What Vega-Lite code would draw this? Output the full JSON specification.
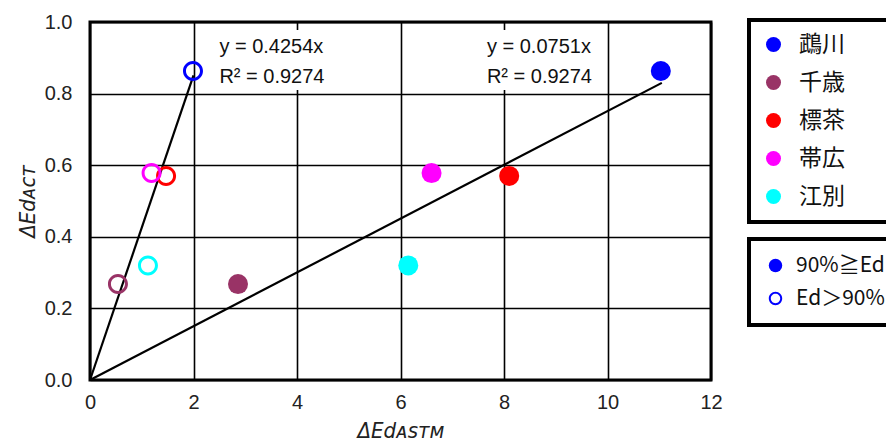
{
  "$schema": "https://vega.github.io/schema/vega-lite/v6.json",
  "width": 621,
  "height": 358,
  "autosize": {"type": "none"},
  "padding": {"left": 90, "top": 22, "right": 175, "bottom": 65},
  "background": "white",
  "config": {
    "view": {"stroke": "black", "strokeWidth": 3},
    "axis": {
      "grid": true, "gridColor": "black", "gridWidth": 1.6, "gridOpacity": 1,
      "domain": false, "ticks": false, "labelFlush": false,
      "labelFont": "Liberation Sans", "labelFontSize": 20, "labelColor": "#222",
      "titleFont": "Liberation Sans Narrow, DejaVu Sans Condensed, Liberation Sans", "titleFontSize": 22,
      "titleFontStyle": "italic", "titleFontWeight": "normal", "titleColor": "#222"
    },
    "legend": {
      "orient": "none",
      "strokeColor": "black", "strokeWidth": 4, "fillColor": "white",
      "labelFont": "Noto Sans CJK JP", "labelColor": "#111",
      "symbolStrokeWidth": 0
    }
  },
  "datasets": {
    "pts": [
      {"station": "鵡川", "type": "90%≧Ed", "x": 11.03, "y": 0.863},
      {"station": "鵡川", "type": "Ed＞90%", "x": 1.99, "y": 0.863},
      {"station": "千歳", "type": "90%≧Ed", "x": 2.86, "y": 0.268},
      {"station": "千歳", "type": "Ed＞90%", "x": 0.54, "y": 0.268},
      {"station": "標茶", "type": "90%≧Ed", "x": 8.1, "y": 0.57},
      {"station": "標茶", "type": "Ed＞90%", "x": 1.47, "y": 0.57},
      {"station": "帯広", "type": "90%≧Ed", "x": 6.6, "y": 0.578},
      {"station": "帯広", "type": "Ed＞90%", "x": 1.19, "y": 0.578},
      {"station": "江別", "type": "90%≧Ed", "x": 6.15, "y": 0.32},
      {"station": "江別", "type": "Ed＞90%", "x": 1.12, "y": 0.32}
    ],
    "fits": [
      {"fit": "a", "x": 0, "y": 0},
      {"fit": "a", "x": 2.0, "y": 0.851},
      {"fit": "b", "x": 0, "y": 0},
      {"fit": "b", "x": 11.05, "y": 0.83}
    ],
    "boxes": [
      {"x1": 2.3, "x2": 5.75, "y1": 0.81, "y2": 0.978},
      {"x1": 7.4, "x2": 9.95, "y1": 0.81, "y2": 0.978}
    ],
    "labels": [
      {"label": "y = 0.4254x", "x": 2.5, "y": 0.93},
      {"label": "R² = 0.9274", "x": 2.5, "y": 0.846},
      {"label": "y = 0.0751x", "x": 7.67, "y": 0.93},
      {"label": "R² = 0.9274", "x": 7.67, "y": 0.846}
    ]
  },
  "layer": [
    {
      "data": {"name": "boxes"},
      "mark": {"type": "rect", "fill": "white"},
      "encoding": {
        "x": {"field": "x1", "type": "quantitative", "scale": {"domain": [0, 12], "nice": false},
              "axis": {"values": [0, 2, 4, 6, 8, 10, 12], "labelPadding": 12, "title": "ΔEdᴀꜱᴛᴍ", "titlePadding": 8}},
        "x2": {"field": "x2"},
        "y": {"field": "y1", "type": "quantitative", "scale": {"domain": [0, 1], "nice": false},
              "axis": {"values": [0, 0.2, 0.4, 0.6, 0.8, 1.0], "format": ".1f", "labelPadding": 18, "title": "ΔEdᴀᴄᴛ", "titlePadding": 5}},
        "y2": {"field": "y2"}
      }
    },
    {
      "data": {"name": "fits"},
      "mark": {"type": "line", "color": "black", "strokeWidth": 2.2},
      "encoding": {
        "x": {"field": "x", "type": "quantitative"},
        "y": {"field": "y", "type": "quantitative"},
        "detail": {"field": "fit"}
      }
    },
    {
      "data": {"name": "pts"},
      "mark": {"type": "point", "filled": true, "size": 400, "strokeWidth": 0, "opacity": 1},
      "encoding": {
        "x": {"field": "x", "type": "quantitative"},
        "y": {"field": "y", "type": "quantitative"},
        "color": {
          "field": "station", "type": "nominal",
          "scale": {"domain": ["鵡川", "千歳", "標茶", "帯広", "江別"], "range": ["#0000FF", "#993366", "#FF0000", "#FF00FF", "#00FFFF"]},
          "legend": {"title": null, "legendX": 659, "legendY": -2, "padding": 13, "labelFontSize": 23, "symbolSize": 225, "symbolType": "circle", "rowPadding": 14, "labelOffset": 14, "labelExpr": "datum.label + '\u2800\u2800'"}
        },
        "shape": {
          "field": "type", "type": "nominal",
          "scale": {"domain": ["90%≧Ed", "Ed＞90%"], "range": ["circle", "M-1,0A1,1,0,1,0,1,0A1,1,0,1,0,-1,0ZM-0.7,0A0.7,0.7,0,1,1,0.7,0A0.7,0.7,0,1,1,-0.7,0Z"]},
          "legend": {"title": null, "legendX": 659, "legendY": 217, "padding": 16, "labelFontSize": 21, "symbolSize": 180, "symbolFillColor": "#0000FF", "rowPadding": 11, "labelOffset": 10}
        }
      }
    },
    {
      "data": {"name": "labels"},
      "mark": {"type": "text", "align": "left", "baseline": "middle", "font": "Liberation Sans", "fontSize": 20, "color": "#111"},
      "encoding": {
        "x": {"field": "x", "type": "quantitative"},
        "y": {"field": "y", "type": "quantitative"},
        "text": {"field": "label"}
      }
    }
  ]
}
